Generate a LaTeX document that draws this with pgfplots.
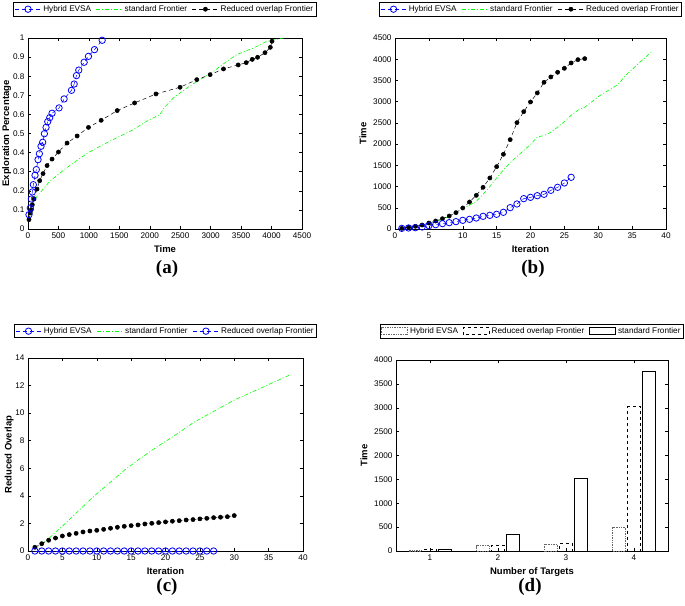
\documentclass[border=0pt]{standalone}
\usepackage{pgfplots}
\pgfplotsset{compat=1.18}
\usepackage{fontspec}
\setmainfont{Liberation Sans}
\newfontfamily\capfont{Liberation Serif}

\tikzset{subcap/.style={font=\capfont\bfseries\fontsize{19}{21}\selectfont}}

\pgfplotsset{
  mat/.style={
    scale only axis,
    anchor=south west,
    axis line style={line width=0.7pt},
    tick align=inside,
    tick pos=both,
    major tick length=3pt,
    every tick/.style={black, line width=0.5pt},
    tick label style={font=\fontsize{8.2}{9}\selectfont},
    label style={font=\bfseries\fontsize{9.5}{11}\selectfont},
    /pgf/number format/assume math mode=true,
    /pgf/number format/1000 sep={},
    scaled ticks=false,
    legend columns=3,
    legend cell align=left,
    legend style={draw=black, line width=0.8pt, font=\fontsize{8.2}{9}\selectfont,
      inner sep=1pt, anchor=north,
      /tikz/every even column/.append style={column sep=3pt}},
    legend image code/.code={\draw[mark repeat=2,mark phase=2,#1]
      plot coordinates {(0pt,0pt) (13pt,0pt) (26pt,0pt)};},
  },
  hyb/.style={blue, line width=0.5pt, dash pattern=on 4pt off 3pt,
    mark=o, mark size=3.2pt, mark options={solid, line width=0.8pt}},
  std/.style={green, line width=0.6pt, dash pattern=on 4pt off 2pt on 1pt off 2pt},
  red/.style={black, line width=0.5pt, dash pattern=on 4pt off 3pt,
    mark=*, mark size=2.1pt, mark options={solid}},
  hybbar/.style={draw=black!60, densely dotted, line width=0.7pt, fill=none},
  redbar/.style={draw=black, dash pattern=on 3pt off 3pt, line width=0.7pt, fill=none},
  stdbar/.style={draw=black, solid, line width=0.8pt, fill=none},
}

\begin{document}
\begin{tikzpicture}[x=1pt,y=1pt]
\useasboundingbox (0,0) rectangle (685,605);

% (a) exploration percentage vs time
\begin{axis}[mat, at={(28pt,376pt)}, width=274pt, height=191pt,
  xmin=0, xmax=4500, ymin=0, ymax=1,
  xtick={0,500,1000,1500,2000,2500,3000,3500,4000,4500},
  ytick={0,0.1,0.2,0.3,0.4,0.5,0.6,0.7,0.8,0.9,1},
  xlabel={Time}, ylabel={Exploration Percentage}, ylabel shift=-5pt,
  legend style={at={(0.5,1.188)}}]
\addlegendimage{hyb}
\addlegendimage{std}
\addlegendimage{red}
\addplot[std, forget plot] coordinates {
  (16,0.07) (82,0.145) (357,0.25) (631,0.32) (988,0.40) (1345,0.46)
  (1729,0.52) (1948,0.564) (2168,0.60) (2234,0.634) (2387,0.686)
  (2607,0.738) (2827,0.782) (3046,0.825) (3266,0.878) (3430,0.913)
  (3705,0.948) (3925,0.983) (4199,1.0)};
\addplot[red, forget plot] coordinates {
  (16,0.049) (38,0.084) (55,0.101) (71,0.127) (99,0.157) (148,0.209)
  (192,0.253) (247,0.290) (313,0.332) (395,0.366) (500,0.403) (642,0.450)
  (807,0.487) (993,0.532) (1202,0.569) (1465,0.620) (1751,0.660)
  (2102,0.707) (2497,0.742) (2772,0.782) (2991,0.808) (3211,0.838)
  (3452,0.859) (3584,0.871) (3683,0.888) (3771,0.899) (3892,0.923)
  (3980,0.951) (4007,0.983)};
\addplot[hyb, forget plot] coordinates {
  (16,0.075) (38,0.11) (55,0.157) (71,0.194) (88,0.232) (115,0.281)
  (137,0.311) (165,0.363) (187,0.394) (214,0.433) (241,0.454) (269,0.499)
  (296,0.532) (324,0.562) (357,0.583) (395,0.606) (510,0.634) (593,0.681)
  (714,0.726) (758,0.759) (796,0.803) (834,0.832) (922,0.873) (993,0.904)
  (1092,0.939) (1218,0.988)};
\legend{Hybrid EVSA, standard Frontier, Reduced overlap Frontier}
\end{axis}

% (b) time vs iteration
\begin{axis}[mat, at={(395pt,376pt)}, width=271pt, height=191pt,
  xmin=0, xmax=40, ymin=0, ymax=4500,
  xtick={0,5,...,40}, ytick={0,500,...,4500},
  xlabel={Iteration}, ylabel={Time},
  legend style={at={(0.5,1.188)}}]
\addlegendimage{hyb}
\addlegendimage{std}
\addlegendimage{red}
\addplot[std, forget plot] coordinates {
  (1,15) (2,30) (3,50) (4,80) (5,120) (6,170) (7,230) (8,300) (9,390)
  (10,480) (11,560) (12,650) (13,820) (14,1000) (15,1200) (16,1390)
  (17,1560) (18,1710) (19,1850) (20,1990) (21,2170) (22,2200) (23,2280)
  (24,2400) (25,2530) (26,2680) (27,2800) (28,2870) (29,2990) (30,3120)
  (31,3220) (32,3310) (33,3420) (34,3610) (35,3760) (36,3910) (37,4050)
  (38,4200)};
\addplot[red, forget plot] coordinates {
  (1,15) (2,40) (3,63) (4,94) (5,141) (6,188) (7,243) (8,306) (9,385)
  (10,495) (11,636) (12,793) (13,982) (14,1202) (15,1469) (16,1760)
  (17,2105) (18,2506) (19,2765) (20,2993) (21,3205) (22,3456) (23,3582)
  (24,3692) (25,3786) (26,3912) (27,3990) (28,4014)};
\addplot[hyb, forget plot] coordinates {
  (1,15) (2,24) (3,31) (4,47) (5,79) (6,102) (7,126) (8,149) (9,173)
  (10,204) (11,228) (12,259) (13,298) (14,322) (15,346) (16,393) (17,503)
  (18,589) (19,715) (20,746) (21,785) (22,817) (23,911) (24,982) (25,1084)
  (26,1218)};
\legend{Hybrid EVSA, standard Frontier, Reduced overlap Frontier}
\end{axis}

% (c) reduced overlap vs iteration
\begin{axis}[mat, at={(28pt,54pt)}, width=275pt, height=193pt,
  xmin=0, xmax=40, ymin=0, ymax=14,
  xtick={0,5,...,40}, ytick={0,2,...,14},
  xlabel={Iteration}, ylabel={Reduced Overlap}, ylabel shift=-5pt,
  legend style={at={(0.5,1.176)}}]
\addlegendimage{hyb}
\addlegendimage{std}
\addlegendimage{hyb}
\addplot[std, forget plot] coordinates {
  (1,0.15) (2,0.5) (3,0.9) (4,1.35) (5,1.8) (7,2.75) (9,3.7) (10,4.15)
  (12,5.0) (14,5.85) (16,6.6) (18,7.3) (20,7.95) (22,8.6) (24,9.3)
  (26,9.85) (28,10.4) (30,10.95) (32,11.4) (34,11.85) (36,12.3) (38,12.75)};
\addplot[red, forget plot] coordinates {
  (1,0.27) (2,0.53) (3,0.78) (4,0.94) (5,1.09) (6,1.19) (7,1.28) (8,1.38)
  (9,1.45) (10,1.50) (11,1.57) (12,1.65) (13,1.72) (14,1.79) (15,1.84)
  (16,1.89) (17,1.96) (18,2.01) (19,2.06) (20,2.11) (21,2.16) (22,2.20)
  (23,2.25) (24,2.28) (25,2.33) (26,2.37) (27,2.42) (28,2.45) (29,2.49)
  (30,2.57)};
\addplot[hyb, forget plot] coordinates {
  (1,0) (2,0) (3,0) (4,0) (5,0) (6,0) (7,0) (8,0) (9,0) (10,0) (11,0)
  (12,0) (13,0) (14,0) (15,0) (16,0) (17,0) (18,0) (19,0) (20,0) (21,0)
  (22,0) (23,0) (24,0) (25,0) (26,0) (27,0)};
\legend{Hybrid EVSA, standard Frontier, Reduced overlap Frontier}
\end{axis}

% (d) time vs number of targets
\begin{axis}[mat, at={(396pt,54pt)}, width=272pt, height=191pt,
  xmin=0.5, xmax=4.5, ymin=0, ymax=4000,
  xtick={1,2,3,4}, ytick={0,500,...,4000},
  xlabel={Number of Targets}, ylabel={Time},
  legend image code/.code={\draw[#1] (0pt,-3.5pt) rectangle (26pt,3.5pt);},
  legend style={at={(0.5,1.188)}}]
\addlegendimage{hybbar}
\addlegendimage{redbar}
\addlegendimage{stdbar}
\addplot[ybar, bar width=13pt, bar shift=-15pt, hybbar, forget plot]
  coordinates {(1,10) (2,110) (3,140) (4,500)};
\addplot[ybar, bar width=13pt, bar shift=0pt, redbar, forget plot]
  coordinates {(1,25) (2,120) (3,155) (4,3020)};
\addplot[ybar, bar width=13pt, bar shift=15pt, stdbar, forget plot]
  coordinates {(1,25) (2,345) (3,1530) (4,3760)};
\legend{Hybrid EVSA, Reduced overlap Frontier, standard Frontier}
\end{axis}

\node[subcap] at (167pt,336pt) {(a)};
\node[subcap] at (533pt,336pt) {(b)};
\node[subcap] at (167pt,18pt) {(c)};
\node[subcap] at (530pt,18pt) {(d)};
\end{tikzpicture}
\end{document}
